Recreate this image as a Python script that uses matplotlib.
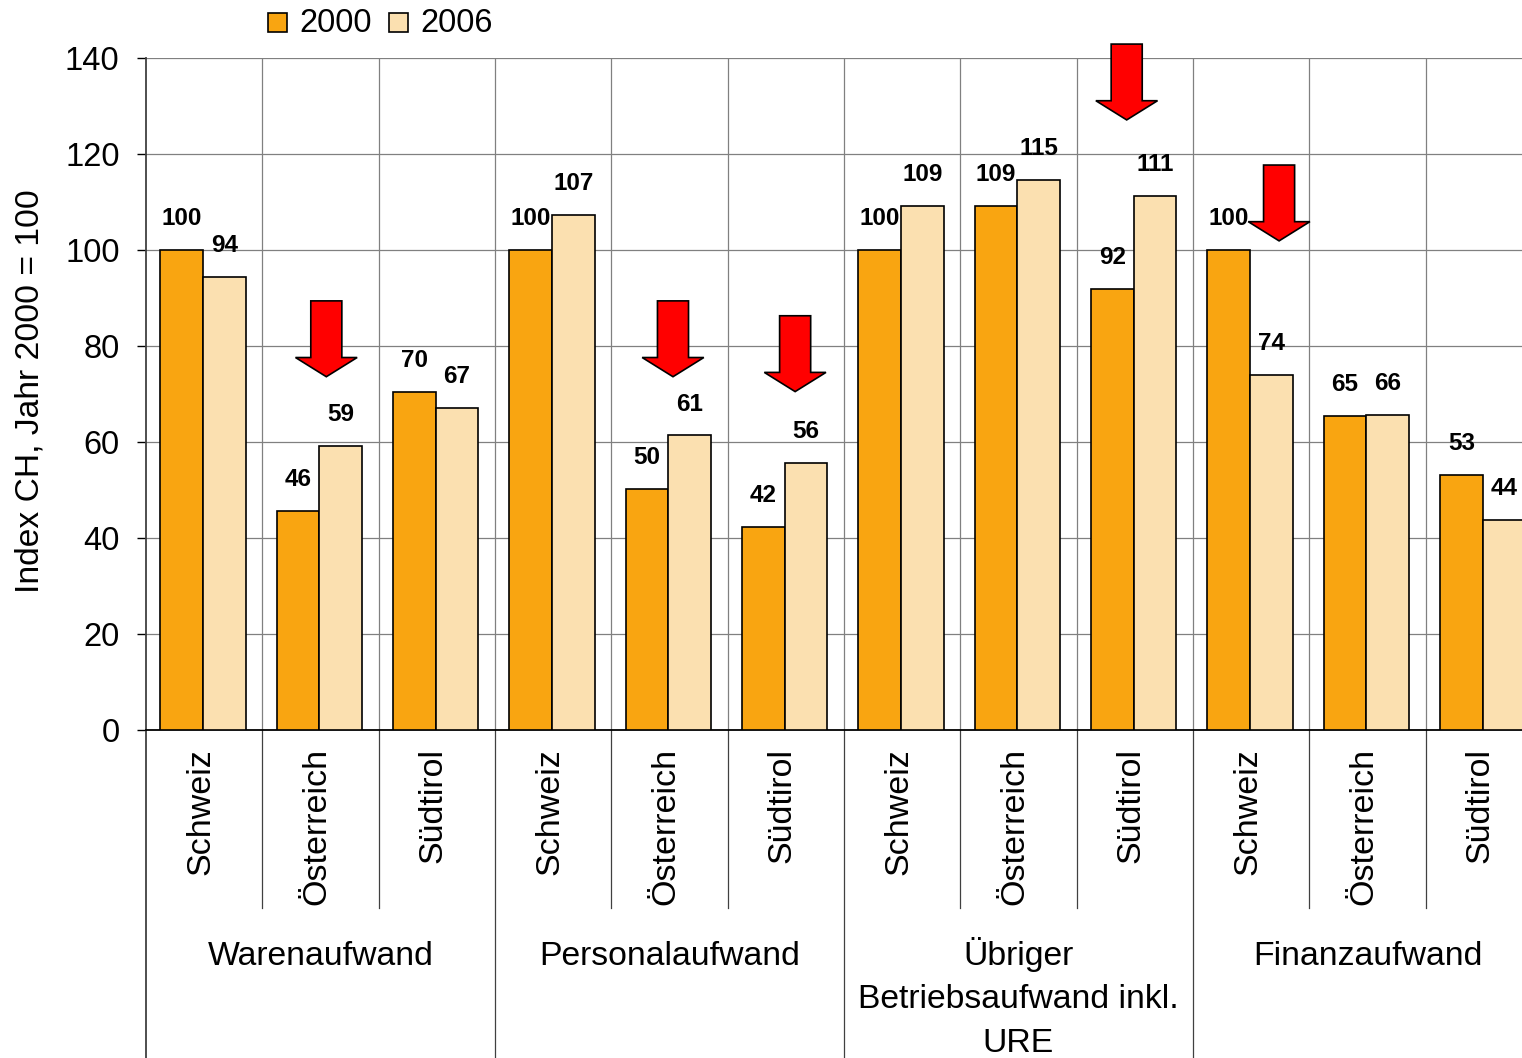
import numpy as np
import matplotlib
matplotlib.use("Agg")
import matplotlib.pyplot as plt
from matplotlib.patches import Polygon, Rectangle

plt.rcParams['font.family'] = ['Liberation Sans', 'DejaVu Sans']

# --- data -----------------------------------------------------------------
groups = ["Warenaufwand", "Personalaufwand",
          "Übriger\nBetriebsaufwand inkl.\nURE", "Finanzaufwand"]
countries = ["Schweiz", "Österreich", "Südtirol"]
series_names = ["2000", "2006"]
values_2000 = [100.0, 45.6, 70.4, 100.0, 50.2, 42.3, 100.0, 109.2, 91.9, 100.0, 65.4, 53.1]
values_2006 = [94.4, 59.2, 67.1, 107.3, 61.4, 55.6, 109.2, 114.6, 111.2, 74.0, 65.6, 43.7]
y_ticks = [0, 20, 40, 60, 80, 100, 120, 140]
y_label = "Index CH, Jahr 2000 = 100"

# decline markers: (slot position, y of arrow tail)
arrows = [(1.05, 89.4), (4.03, 89.4), (5.08, 86.3), (7.93, 142.9), (9.24, 117.7)]

# --- styling --------------------------------------------------------------
C2000 = "#F9A511"
C2006 = "#FBE0B0"
GRID = "#808080"
W, H = 1522, 1058
fig = plt.figure(figsize=(W / 100, H / 100), dpi=100)

left_px, right_px, top_px, bot_px = 146, 1542, 58, 730
ax = fig.add_axes([left_px / W, 1 - bot_px / H,
                   (right_px - left_px) / W, (bot_px - top_px) / H])

n = len(values_2000)
x = np.arange(n)
bw = 0.366

ax.bar(x - bw / 2 - 0.01, values_2000, bw, color=C2000, edgecolor="black",
       linewidth=1.2, zorder=3)
ax.bar(x + bw / 2 - 0.01, values_2006, bw, color=C2006, edgecolor="black",
       linewidth=1.2, zorder=3)

for xi, v in zip(x - bw / 2 - 0.01, values_2000):
    ax.annotate(f"{v:.0f}", (xi, v), xytext=(0, 22.5), textcoords="offset points",
                ha="center", va="center", fontsize=17.5, fontweight="bold",
                zorder=5, annotation_clip=False)
for xi, v in zip(x + bw / 2 - 0.01, values_2006):
    ax.annotate(f"{v:.0f}", (xi, v), xytext=(0, 22.5), textcoords="offset points",
                ha="center", va="center", fontsize=17.5, fontweight="bold",
                zorder=5, annotation_clip=False)

ax.set_xlim(-0.5, n - 0.5)
ax.set_ylim(0, 140)
ax.set_yticks(y_ticks)
ax.set_yticklabels([str(t) for t in y_ticks], fontsize=23.5)
ax.tick_params(axis="y", length=6.5, width=1, pad=12.5, colors="black")
ax.set_xticks([])

# gridlines
for t in y_ticks[1:]:
    ax.axhline(t, color=GRID, lw=0.9, zorder=1)
for b in np.arange(0.5, n - 0.5, 1):
    ax.axvline(b, color=GRID, lw=0.9, zorder=1)

for s in ["top", "right"]:
    ax.spines[s].set_visible(False)
ax.spines["left"].set_color("#404040")
ax.spines["left"].set_linewidth(1.3)
ax.spines["bottom"].set_color("black")
ax.spines["bottom"].set_linewidth(1.3)

# category axis below the plot
xt = ax.get_xaxis_transform()
span = bot_px - top_px
inner_bottom = (bot_px - 908) / span
outer_bottom = (bot_px - H - 5) / span
for g in range(len(groups)):
    for k in range(1, len(countries)):
        b = g * len(countries) + k - 0.5
        ax.plot([b, b], [0, inner_bottom], color="#404040", lw=0.9,
                transform=xt, clip_on=False)
    b = g * len(countries) - 0.5
    ax.plot([b, b], [0, outer_bottom], color="#404040",
            lw=1.3 if g == 0 else 0.9, transform=xt, clip_on=False)

label_top = (bot_px - 748) / span
for i in range(n):
    ax.text(i - 0.03, label_top, countries[i % len(countries)], rotation=90,
            ha="center", va="top", fontsize=24.5, transform=xt)

# group names, one baseline per line
first_baseline_px, line_step_px = 965, 43.5
for g, name in enumerate(groups):
    cx = g * len(countries) + (len(countries) - 1) / 2
    for j, line in enumerate(name.split("\n")):
        yb = (bot_px - (first_baseline_px + j * line_step_px)) / span
        ax.text(cx, yb, line, ha="center", va="baseline", fontsize=24.3,
                transform=xt)

fig.text(30 / W, 1 - 391 / H, y_label, rotation=90, ha="center", va="center",
         fontsize=24.2)

# red block arrows
shaft_w, head_w, head_len, length = 0.267, 0.53, 4.0, 15.8
for ax_x, y_top in arrows:
    y_tip = y_top - length
    y_base = y_tip + head_len
    pts = [(ax_x - shaft_w / 2, y_top), (ax_x + shaft_w / 2, y_top),
           (ax_x + shaft_w / 2, y_base), (ax_x + head_w / 2, y_base),
           (ax_x, y_tip), (ax_x - head_w / 2, y_base),
           (ax_x - shaft_w / 2, y_base)]
    ax.add_patch(Polygon(pts, closed=True, facecolor="#FF0000",
                         edgecolor="black", linewidth=1.2, zorder=6,
                         clip_on=False))

# legend
for (x0, name, col) in [(268, series_names[0], C2000), (389, series_names[1], C2006)]:
    fig.patches.append(Rectangle((x0 / W, 1 - 32 / H), 19 / W, 19 / H,
                                 facecolor=col, edgecolor="black", lw=1.2,
                                 transform=fig.transFigure, figure=fig))
    fig.text((x0 + 31) / W, 1 - 23 / H, name, ha="left", va="center",
             fontsize=23.5)

fig.savefig("out.png", dpi=100)
